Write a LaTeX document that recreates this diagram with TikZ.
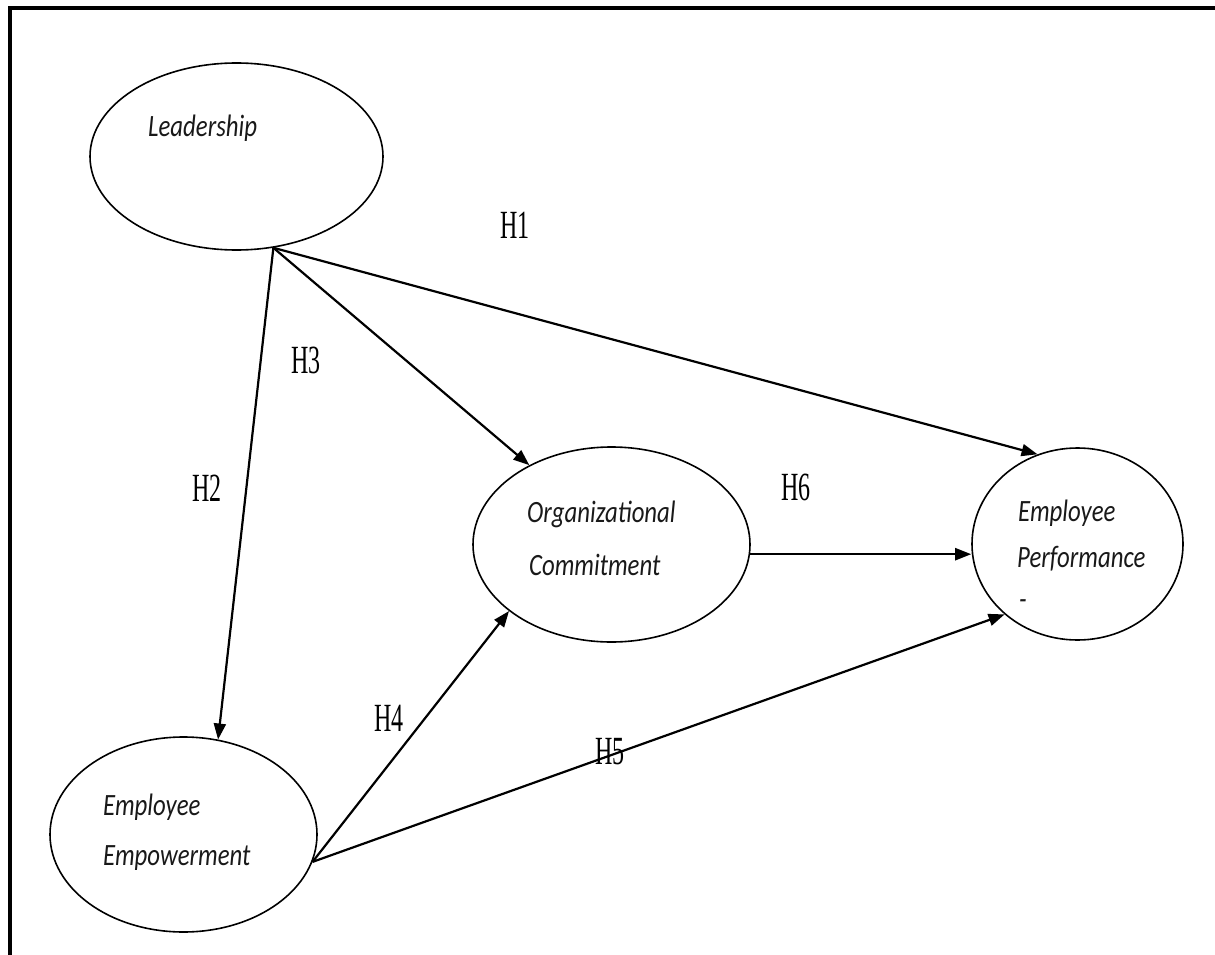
\documentclass[tikz,border=0pt]{standalone}
\usepackage{fontspec}
\usepackage{tikz}
\usetikzlibrary{shapes.geometric, arrows.meta}
\newfontfamily\ellfont[FakeStretch=0.8]{Carlito}
\newfontfamily\hypfont[FakeStretch=0.6]{Liberation Serif}
\tikzstyle{construct} = [ellipse, draw, line width=1.6pt, inner sep=0pt]
\tikzstyle{ltext} = [anchor=base west, inner sep=0pt, font=\ellfont\itshape\fontsize{31}{31}\selectfont, text=black!90]
\tikzstyle{hyp} = [inner sep=0pt, font=\hypfont\fontsize{40}{40}\selectfont]
\tikzstyle{line} = [draw, line width=2.2pt, -{Triangle[length=16pt, width=12pt]}]

\begin{document}
\begin{tikzpicture}[x=1pt, y=-1pt]
    \useasboundingbox (0,0) rectangle (1215,955);
    % Frame (top and left only)
    \draw [line width=3.5pt] (10,955) -- (10,8) -- (1215,8);
    % Place nodes
    \node [construct, minimum width=293pt, minimum height=187pt] (lead) at (236.5,156.5) {};
    \node [construct, minimum width=267pt, minimum height=195pt] (empow) at (183.5,834.5) {};
    \node [construct, minimum width=277pt, minimum height=195pt] (org) at (611.5,544.5) {};
    \node [construct, minimum width=211pt, minimum height=192pt] (perf) at (1077.5,544) {};
    % Node texts
    \node [ltext] (lead-t) at (148,137) {Leadership};
    \node [ltext] (empow-t1) at (103,815) {Employee};
    \node [ltext] (empow-t2) at (103,865) {Empowerment};
    \node [ltext] (org-t1) at (527,522) {Organizational};
    \node [ltext] (org-t2) at (529,575) {Commitment};
    \node [ltext] (perf-t1) at (1018,521) {Employee};
    \node [ltext] (perf-t2) at (1017,567) {Performance};
    \node [ltext] (perf-t3) at (1019,609) {-};
    % Draw edges
    \path [line] (lead.-68) -- (empow.70);
    \path [line] (lead.-68) -- (org.136);
    \path [line] (lead.-68) -- (perf.114);
    \path [line] (org.-4.5) -- (org.-4.5 -| perf.west);
    \path [line] (empow.-12) -- (org.-147);
    \path [line] (empow.-12) -- (perf.-136);
    % Hypothesis labels
    \node [hyp] (h1) at (515,225) {H1};
    \node [hyp] (h2) at (207,488) {H2};
    \node [hyp] (h3) at (306,360) {H3};
    \node [hyp] (h4) at (389,718) {H4};
    \node [hyp] (h5) at (610,752) {H5};
    \node [hyp] (h6) at (796,487) {H6};
\end{tikzpicture}
\end{document}
